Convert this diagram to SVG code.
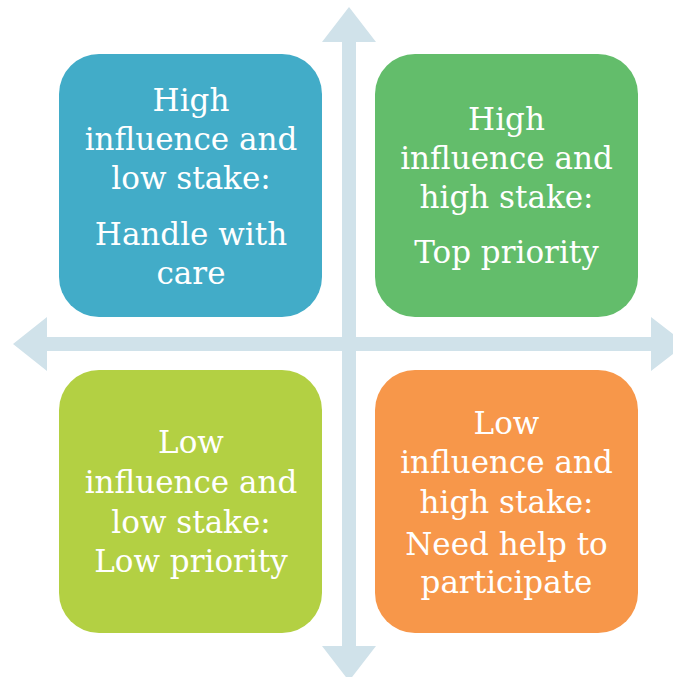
<svg xmlns="http://www.w3.org/2000/svg" width="673" height="677" viewBox="0 0 673 677">
<style>
.axis{fill:#d0e2ea;}
.box text{font-family:"DejaVu Serif","Liberation Serif",serif;font-size:31px;fill:#ffffff;text-anchor:middle;}
</style>
<rect width="673" height="677" fill="#ffffff"/>
<g id="connectors">
<polygon class="axis" points="349,7 376,42 356,42 356,646 376,646 349,681 322,646 342,646 342,42 322,42"/>
<polygon class="axis" points="13,344 47,317 47,337 651,337 651,317 686,344 651,371 651,351 47,351 47,371"/>
</g>
<g id="node-tl" class="box">
<rect x="59" y="54" width="263" height="263" rx="40" fill="#42acc8"/>
<text x="191" y="111">High</text>
<text x="191" y="150">influence and</text>
<text x="191" y="189">low stake:</text>
<text x="191" y="245">Handle with</text>
<text x="191" y="284">care</text>
</g>
<g id="node-tr" class="box">
<rect x="375" y="54" width="263" height="263" rx="40" fill="#63bd6b"/>
<text x="506.5" y="130">High</text>
<text x="506.5" y="169">influence and</text>
<text x="506.5" y="208">high stake:</text>
<text x="506.5" y="263">Top priority</text>
</g>
<g id="node-bl" class="box">
<rect x="59" y="370" width="263" height="263" rx="40" fill="#b3d043"/>
<text x="191" y="453">Low</text>
<text x="191" y="493">influence and</text>
<text x="191" y="533">low stake:</text>
<text x="191" y="572">Low priority</text>
</g>
<g id="node-br" class="box">
<rect x="375" y="370" width="263" height="263" rx="40" fill="#f7974a"/>
<text x="506.5" y="434">Low</text>
<text x="506.5" y="473">influence and</text>
<text x="506.5" y="513">high stake:</text>
<text x="506.5" y="555">Need help to</text>
<text x="506.5" y="593">participate</text>
</g>
</svg>
